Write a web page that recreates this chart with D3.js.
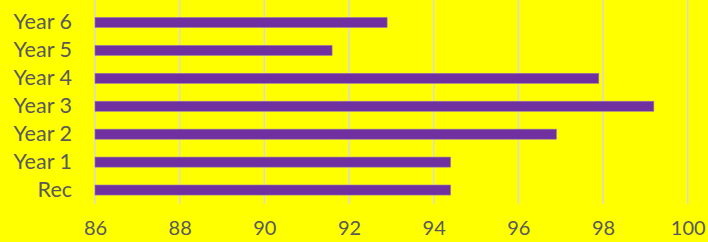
<!DOCTYPE html>
<html>
<head>
<meta charset="utf-8">
<script src="https://cdn.jsdelivr.net/npm/d3@7"></script>
<style>
  body { margin: 0; background: #ffff00; }
  svg { display: block; }
</style>
</head>
<body>
<div id="chart"></div>
<script>
// chart data
var categories = ["Rec", "Year 1", "Year 2", "Year 3", "Year 4", "Year 5", "Year 6"]
var values = [94.4, 94.4, 96.9, 99.2, 97.9, 91.6, 92.9]
var xTicks = [86, 88, 90, 92, 94, 96, 98, 100]

var width = 708, height = 242
var margin = { left: 95, right: 20, top: 8.5, bottom: 38 }
var plotBottom = height - margin.bottom

var svg = d3.select("#chart")
  .append("svg")
  .attr("width", width)
  .attr("height", height)

svg.append("rect")
  .attr("width", width)
  .attr("height", height)
  .attr("fill", "#ffff00")

var x = d3.scaleLinear()
  .domain([86, 100])
  .range([margin.left, 687.7])

var y = d3.scaleBand()
  .domain(categories)
  .range([plotBottom, margin.top])
  .paddingInner(0.64)
  .paddingOuter(0.32)

// vertical gridlines
svg.append("g")
  .selectAll("line")
  .data(xTicks)
  .enter()
  .append("line")
  .attr("x1", d => x(d))
  .attr("x2", d => x(d))
  .attr("y1", 0)
  .attr("y2", plotBottom)
  .attr("stroke", "#d9d9d9")
  .attr("stroke-width", 1.5)

// bars
svg.append("g")
  .selectAll("rect")
  .data(values)
  .enter()
  .append("rect")
  .attr("x", x(86))
  .attr("y", (d, i) => y(categories[i]))
  .attr("width", d => x(d) - x(86))
  .attr("height", y.bandwidth())
  .attr("fill", "#7030a0")
  .attr("stroke", "#9a7ab0")
  .attr("stroke-width", 0.6)

// x axis labels
var xAxis = svg.append("g")
  .attr("transform", "translate(0," + plotBottom + ")")
  .call(d3.axisBottom(x).tickValues(xTicks).tickSize(0).tickPadding(17))
xAxis.select(".domain").remove()
xAxis.selectAll("text")
  .attr("fill", "#595959")
  .style("font-family", "Lato, 'Open Sans', sans-serif")
  .style("font-size", "20px")

// y axis labels
var yAxis = svg.append("g")
  .attr("transform", "translate(" + margin.left + ",0)")
  .call(d3.axisLeft(y).tickSize(0).tickPadding(23))
yAxis.select(".domain").remove()
yAxis.selectAll("text")
  .attr("fill", "#595959")
  .style("font-family", "Lato, 'Open Sans', sans-serif")
  .style("font-size", "21.5px")
</script>
</body>
</html>
